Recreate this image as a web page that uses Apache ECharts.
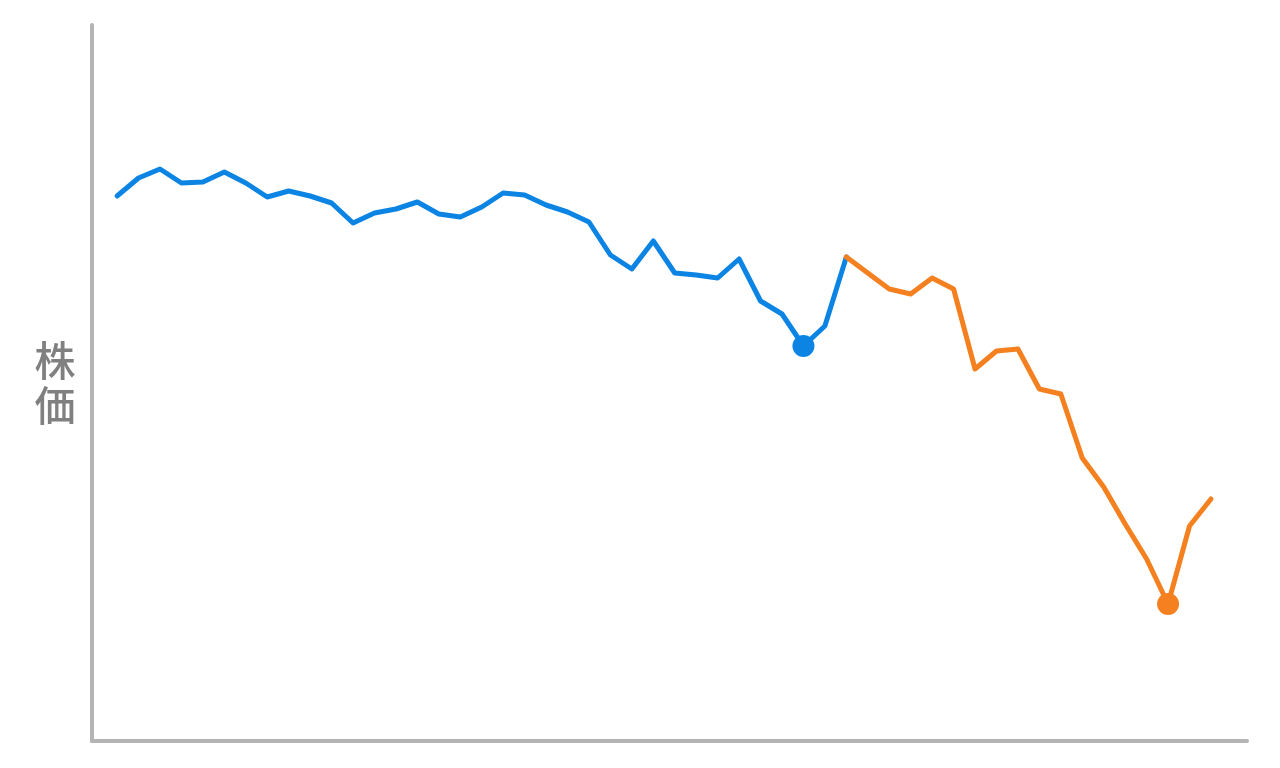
<!DOCTYPE html>
<html>
<head>
<meta charset="utf-8">
<script src="https://cdn.jsdelivr.net/npm/echarts@6/dist/echarts.min.js"></script>
<style>html,body{margin:0;padding:0;background:#fff}#c{width:1280px;height:768px}</style>
</head>
<body>
<div id="c"></div>
<script>
// Price values (arbitrary units)
const beforeValues = [545, 563, 572, 558, 559, 569, 558, 544, 550, 545, 538, 518, 528, 532, 539, 527, 524, 534, 548, 546, 536, 529, 519, 486, 472, 500, 468, 466, 463, 482, 440, 427, 395, 415, 484];
const afterValues = [484, 468, 452, 447, 463, 452, 372, 390, 392, 352, 347, 283, 254, 217, 182, 137, 215, 242];
const afterStart = beforeValues.length - 1;
const yAxisName = '株\n価';

const beforeData = beforeValues.map((v, i) => [i, v]);
const afterData = afterValues.map((v, i) => [afterStart + i, v]);

const chart = echarts.init(document.getElementById('c'));
chart.setOption({
  animation: false,
  grid: { left: 92, right: 33, top: 25, bottom: 27, containLabel: false },
  xAxis: {
    type: 'value', min: -1.17, max: 52.68,
    axisLine: { show: true, onZero: false, lineStyle: { color: '#b4b4b4', width: 4 } },
    axisTick: { show: false }, axisLabel: { show: false }, splitLine: { show: false }
  },
  yAxis: {
    type: 'value', min: 0, max: 716,
    name: yAxisName, nameLocation: 'middle', nameRotate: 0, nameGap: 37,
    nameTextStyle: { color: '#808080', fontSize: 41, fontWeight: 500, lineHeight: 45, align: 'center', verticalAlign: 'middle', fontFamily: 'Noto Sans CJK JP', padding: [4, 0, 0, 0] },
    axisLine: { show: true, onZero: false, lineStyle: { color: '#b4b4b4', width: 4 } },
    axisTick: { show: false }, axisLabel: { show: false }, splitLine: { show: false }
  },
  series: [
    {
      type: 'line', data: beforeData, showSymbol: false, z: 2,
      lineStyle: { color: '#0b84e4', width: 5, cap: 'round', join: 'round' }, itemStyle: { color: '#0b84e4' },
      markPoint: { symbol: 'circle', symbolSize: 22, label: { show: false }, itemStyle: { color: '#0b84e4' }, data: [{ type: 'min' }] }
    },
    {
      type: 'line', data: afterData, showSymbol: false, z: 3,
      lineStyle: { color: '#f58020', width: 5, cap: 'round', join: 'round' }, itemStyle: { color: '#f58020' },
      markPoint: { symbol: 'circle', symbolSize: 22, label: { show: false }, itemStyle: { color: '#f58020' }, data: [{ type: 'min' }] }
    }
  ]
});
</script>
</body>
</html>
